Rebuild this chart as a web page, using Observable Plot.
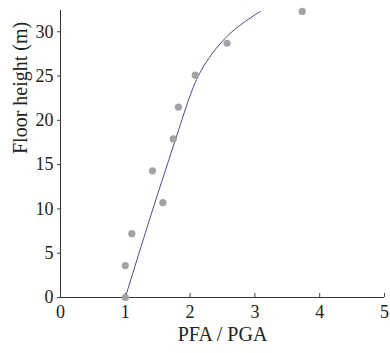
<!DOCTYPE html>
<html>
<head>
<meta charset="utf-8">
<script src="https://cdn.jsdelivr.net/npm/d3@7"></script>
<script src="https://cdn.jsdelivr.net/npm/@observablehq/plot@0.6"></script>
<style>
  html, body { margin: 0; padding: 0; background: #fff; }
  #chart svg, #chart svg text { font-family: "Liberation Serif", "DejaVu Serif", Tinos, Times, serif !important; }
</style>
</head>
<body>
<div id="chart"></div>
<script>
// Measured points (PFA/PGA vs floor height)
const ratioValues = [1.0, 1.0, 1.10, 1.58, 1.42, 1.74, 1.82, 2.08, 2.57, 3.73];
const heightValues = [0, 3.6, 7.2, 10.7, 14.3, 17.9, 21.5, 25.1, 28.7, 32.3];

// Fitted curve
const curveRatio = [1.0, 1.4, 1.8, 2.0, 2.1, 2.2, 2.3, 2.4, 2.6, 2.8, 3.0, 3.09];
const curveHeight = [0, 9.4, 18.4, 22.8, 24.6, 26.0, 27.1, 28.1, 29.7, 30.9, 31.9, 32.3];

const xTicks = [0, 1, 2, 3, 4, 5];
const yTicks = [0, 5, 10, 15, 20, 25, 30];
const xLabel = "PFA / PGA";
const yLabel = "Floor height (m)";

const points = ratioValues.map((x, i) => ({x, y: heightValues[i]}));
const curve = curveRatio.map((x, i) => ({x, y: curveHeight[i]}));

const chart = Plot.plot({
  width: 390,
  height: 353,
  marginLeft: 60,
  marginRight: 6,
  marginTop: 10,
  marginBottom: 56,
  style: {fontFamily: "Liberation Serif, serif", fontSize: "18px", color: "#222", background: "#fff"},
  x: {domain: [0, 5]},
  y: {domain: [0, 32.4]},
  marks: [
    Plot.ruleY([0], {stroke: "#333", strokeWidth: 1}),
    Plot.ruleX([0], {stroke: "#333", strokeWidth: 1}),
    Plot.axisX(xTicks, {anchor: "bottom", tickSize: -4, tickPadding: 12, label: null, fontSize: 18, stroke: "#444"}),
    Plot.axisY(yTicks, {anchor: "left", tickSize: 3, tickPadding: 4, label: null, fontSize: 18, stroke: "#444"}),
    Plot.line(curve, {x: "x", y: "y", stroke: "#4a4a96", strokeWidth: 1, curve: "catmull-rom"}),
    Plot.dot(points, {x: "x", y: "y", r: 3.6, fill: "#a3a3a3", stroke: "none"}),
    Plot.text([xLabel], {frameAnchor: "bottom", dy: 43.5, fontSize: 20, fill: "#222"}),
    Plot.text([yLabel], {frameAnchor: "left", rotate: -90, dx: -39.5, fontSize: 20, fill: "#222"})
  ]
});
document.getElementById("chart").appendChild(chart);
</script>
</body>
</html>
